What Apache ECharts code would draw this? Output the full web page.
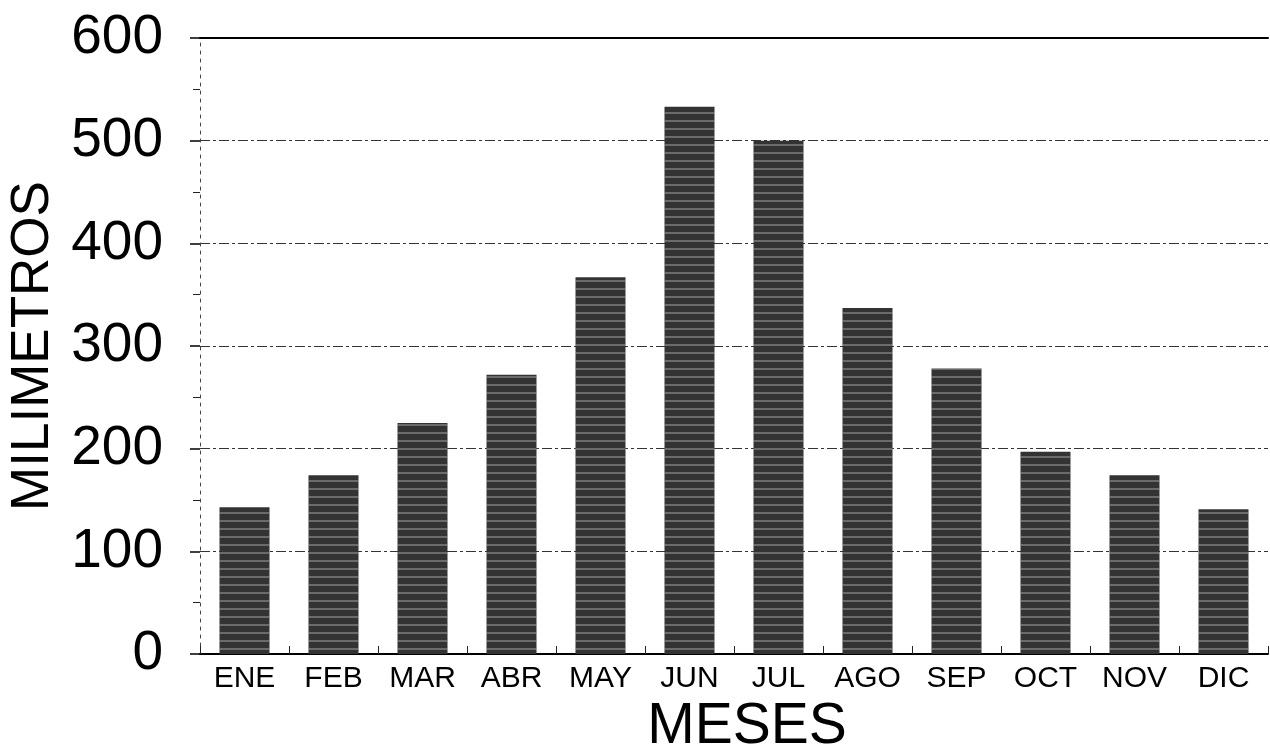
<!DOCTYPE html>
<html>
<head>
<meta charset="utf-8">
<script src="https://cdn.jsdelivr.net/npm/echarts@6/dist/echarts.min.js"></script>
<style>
html,body{margin:0;padding:0;background:#fff;}
#chart{width:1270px;height:747px;}
</style>
</head>
<body>
<div id="chart"></div>
<script>
var categories = ['ENE','FEB','MAR','ABR','MAY','JUN','JUL','AGO','SEP','OCT','NOV','DIC'];
var precipitacion = [143, 174, 225, 272, 367, 533, 500, 337, 278, 197, 174, 141];
var yTicks = [0, 100, 200, 300, 400, 500, 600];

var FONT = '"Liberation Sans", Arial, sans-serif';
var chart = echarts.init(document.getElementById('chart'), null, {renderer:'canvas'});
chart.setOption({
  animation: false,
  backgroundColor: '#ffffff',
  grid: {left: 200, right: 2, top: 38, bottom: 93, containLabel: false, outerBoundsMode: 'none'},
  xAxis: [{
    type: 'category',
    data: categories,
    position: 'bottom',
    axisLine: {show: true, lineStyle: {color: '#000', width: 2}},
    axisTick: {show: true, interval: 0, inside: true, length: 8, lineStyle: {color: '#222', width: 1}},
    axisLabel: {interval: 0, color: '#000', fontFamily: FONT, fontSize: 30, margin: 10},
    name: 'MESES',
    nameLocation: 'middle',
    nameGap: 43,
    nameTextStyle: {color: '#000', fontFamily: FONT, fontSize: 57, padding: [0,0,0,26]}
  }, {
    type: 'category',
    data: categories,
    position: 'top',
    axisLine: {show: true, lineStyle: {color: '#000', width: 2}},
    axisTick: {show: false},
    axisLabel: {show: false}
  }],
  yAxis: {
    type: 'value',
    min: yTicks[0],
    max: yTicks[yTicks.length - 1],
    interval: 100,
    axisLine: {show: true, lineStyle: {color: '#444', width: 1, type: [3, 5]}},
    axisTick: {show: true, length: 10, lineStyle: {color: '#000', width: 1.5}},
    minorTick: {show: true, splitNumber: 2, length: 7, lineStyle: {color: '#222', width: 1}},
    splitLine: {show: true, lineStyle: {color: '#333', width: 1.2, type: [10, 3, 3, 3]}},
    axisLabel: {color: '#000', fontFamily: FONT, fontSize: 55, margin: 37},
    name: 'MILIMETROS',
    nameLocation: 'middle',
    nameRotate: 90,
    nameGap: 127,
    nameTextStyle: {color: '#000', fontFamily: FONT, fontSize: 53}
  },
  series: [{
    type: 'bar',
    data: precipitacion,
    barWidth: 50,
    itemStyle: {
      color: '#333333',
      decal: {
        symbol: 'rect',
        symbolSize: 1,
        dashArrayX: [1, 0],
        dashArrayY: [2, 6],
        rotation: 0,
        color: 'rgba(190,190,190,0.4)'
      }
    }
  }]
});
</script>
</body>
</html>
